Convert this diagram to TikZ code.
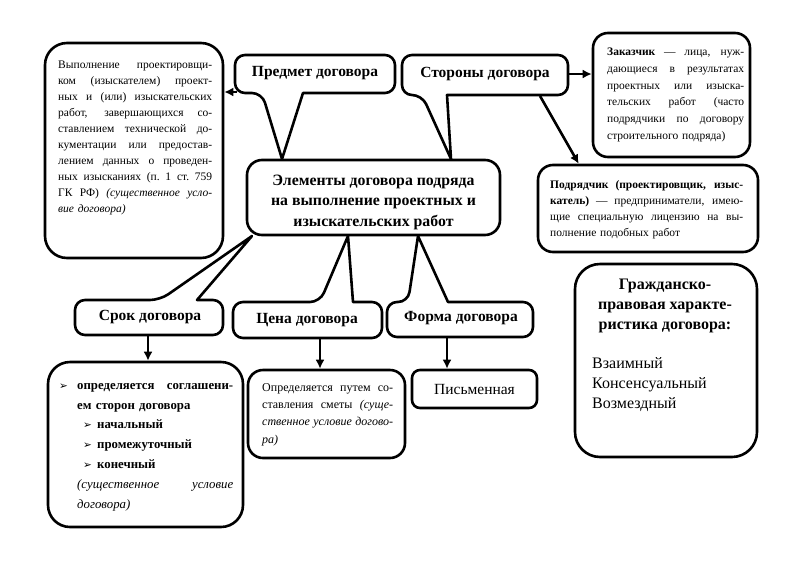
\documentclass[tikz,border=0pt]{standalone}
\usepackage{fontspec}
\setmainfont{Liberation Serif}
\newfontfamily\dejavu{DejaVu Sans}
\usetikzlibrary{arrows.meta}
\newcommand{\jl}[1]{{\spaceskip=0.25em plus 1fil\makebox[\hsize][s]{#1}}}
\newcommand{\arr}{{\dejavu\fontsize{10.5}{10}\selectfont ➢}}
\begin{document}
\begin{tikzpicture}[x=1pt,y=-1pt,
  bx/.style={draw,line width=2.6pt,rounded corners=#1,fill=white,inner sep=0pt},
  bx/.default=15pt,
  cl/.style={draw,line width=2.6pt,fill=white,line join=round},
  conn/.style={line width=2.6pt,-{Latex[length=9pt,width=9pt]}},
  txt/.style={inner sep=0pt,anchor=north west,align=left},
  head/.style={inner sep=0pt,font=\fontsize{15.5}{17}\selectfont\bfseries},
]
\useasboundingbox (0,0) rectangle (800,560);
\fill[white] (0,0) rectangle (800,560);

% boxes
\node[bx=22pt,minimum width=178pt,minimum height=215pt] (lbox) at (134,150.5) {};
\node[bx,minimum width=157pt,minimum height=124pt] (zbox) at (671.5,95) {};
\node[bx,minimum width=220pt,minimum height=87pt] (pbox) at (648,208.5) {};
\node[bx,minimum width=253pt,minimum height=75pt] (cbox) at (373.5,197.5) {};
\node[bx=22pt,minimum width=195pt,minimum height=165pt] (sbox) at (145.5,444.5) {};
\node[bx,minimum width=157pt,minimum height=88pt] (cenbox) at (326.5,414) {};
\node[bx=8pt,minimum width=125pt,minimum height=38pt,font=\fontsize{15.5}{17}\selectfont] (fbox) at (474.5,389) {Письменная};
\node[bx=25pt,minimum width=182pt,minimum height=193pt] (gbox) at (666,360.5) {};

% callouts
\draw[cl] (315,55) [rounded corners=10pt] -- (235,55) -- (235,93) -- (262,93) [sharp corners] -- (282,159) -- (303,93) [rounded corners=10pt] -- (395,93) -- (395,55) -- cycle;
\draw[cl] (485,55) [rounded corners=10pt] -- (402,55) -- (402,95) -- (422,95) [sharp corners] -- (451,159) -- (447,95) [rounded corners=10pt] -- (568,95) -- (568,55) -- cycle;
\draw[cl] (149,335) [rounded corners=10pt] -- (75,335) -- (75,300) -- (160,300) [sharp corners] -- (252,236) -- (197,300) [rounded corners=10pt] -- (223,300) -- (223,335) -- cycle;
\draw[cl] (307,338) [rounded corners=10pt] -- (233,338) -- (233,302) -- (320,302) [sharp corners] -- (348,236) -- (353,302) [rounded corners=10pt] -- (382,302) -- (382,338) -- cycle;
\draw[cl] (460,337) [rounded corners=10pt] -- (387,337) -- (387,302) -- (408,302) [sharp corners] -- (418,236) -- (448,302) [rounded corners=10pt] -- (533,302) -- (533,337) -- cycle;

\node[head] (pred) at (315,73) {Предмет договора};
\node[head] (stor) at (485,74) {Стороны договора};
\node[head] (srok) at (150,317) {Срок договора};
\node[head] (cena) at (307,320) {Цена договора};
\node[head] (forma) at (461,318) {Форма договора};

% texts
\node[txt,text width=154pt,font=\fontsize{11.5}{16}\selectfont] (ltext) at (58,61) {%
\jl{Выполнение проектировщи-}\\
\jl{ком (изыскателем) проект-}\\
\jl{ных и (или) изыскательских}\\
\jl{работ, завершающихся со-}\\
\jl{ставлением технической до-}\\
\jl{кументации или предостав-}\\
\jl{лением данных о проведен-}\\
\jl{ных изысканиях (п. 1 ст. 759}\\
\jl{ГК РФ) \textit{(существенное усло-}}\\
\textit{вие договора)}};

\node[txt,text width=137pt,font=\fontsize{11.5}{16.7}\selectfont] (ztext) at (607,48) {%
\jl{\textbf{Заказчик} — лица, нуж-}\\
\jl{дающиеся в результатах}\\
\jl{проектных или изыска-}\\
\jl{тельских работ (часто}\\
\jl{подрядчики по договору}\\
строительного подряда)};

\node[txt,text width=193pt,font=\fontsize{11.5}{16}\selectfont] (ptext) at (550,180) {%
\jl{\bfseries Подрядчик (проектировщик, изыс-}\\
\jl{\textbf{катель)} — предприниматели, имею-}\\
\jl{щие специальную лицензию на вы-}\\
полнение подобных работ};

\node[inner sep=0pt,align=center,font=\fontsize{15.8}{20.5}\selectfont\bfseries] (ctitle) at (373.5,202) {Элементы договора подряда\\на выполнение проектных и\\изыскательских работ};

\node[txt,text width=176pt,font=\fontsize{12.8}{19.8}\selectfont] (stext) at (59,383) {%
\makebox[18pt][l]{\arr}\makebox[156pt][s]{\bfseries\spaceskip=0.25em plus 1fil определяется соглашени-}\\
\hspace*{18pt}\textbf{ем сторон договора}\\
\hspace*{24pt}\makebox[14pt][l]{\arr}\textbf{начальный}\\
\hspace*{24pt}\makebox[14pt][l]{\arr}\textbf{промежуточный}\\
\hspace*{24pt}\makebox[14pt][l]{\arr}\textbf{конечный}\\
\hspace*{18pt}\makebox[156pt][s]{\itshape\spaceskip=0.25em plus 1fil (существенное условие}\\
\hspace*{18pt}\textit{договора)}};

\node[txt,text width=131pt,font=\fontsize{12}{17.3}\selectfont] (cetext) at (262,383) {%
\jl{Определяется путем со-}\\
\jl{ставления сметы \textit{(суще-}}\\
\jl{\itshape ственное условие догово-}\\
\textit{ра)}};

\node[inner sep=0pt,align=center,anchor=north,font=\fontsize{16}{20}\selectfont\bfseries] (gtitle) at (665,279) {Гражданско-\\правовая характе-\\ристика договора:};
\node[txt,font=\fontsize{16}{20}\selectfont] (glist) at (592,357) {Взаимный\\Консенсуальный\\Возмездный};

% connectors
\coordinate (pa) at (237,92);
\draw[conn] (pa) -- (lbox.east |- pa);
\coordinate (sa) at (568,74);
\draw[conn] (sa) -- (zbox.west |- sa);
\coordinate (sb) at (540,96);
\draw[conn] (sb) -- ([xshift=42pt]pbox.north west);
\coordinate (ka) at (148,335);
\draw[conn] (ka) -- (sbox.north -| ka);
\coordinate (kb) at (320,338);
\draw[conn] (kb) -- (cenbox.north -| kb);
\coordinate (kc) at (447,337);
\draw[conn] (kc) -- (fbox.north -| kc);
\end{tikzpicture}
\end{document}
